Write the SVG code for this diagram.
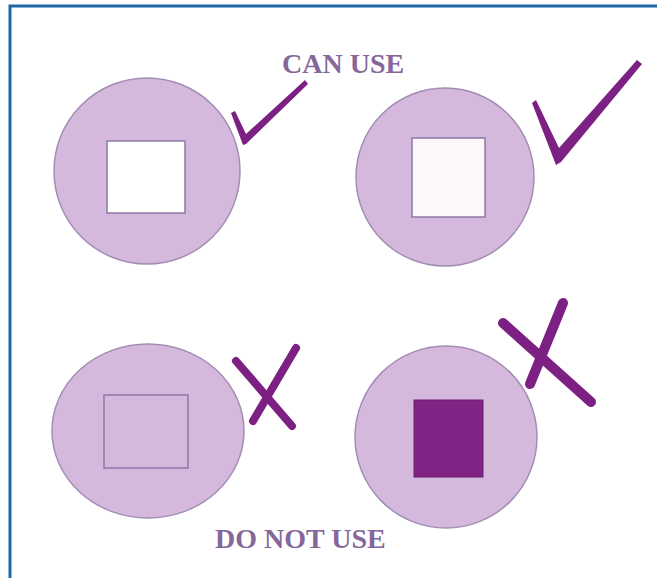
<svg xmlns="http://www.w3.org/2000/svg" width="657" height="578" viewBox="0 0 657 578">
  <style>
    .disc { fill: #d5b9dc; stroke: #a28db4; stroke-width: 1.5; }
    .sq { stroke: #8d78a6; stroke-width: 1.5; }
    .mark { fill: #7c2083; }
    .xline { stroke: #7c2083; stroke-linecap: round; fill: none; }
    .label { font-family: "Liberation Serif", "Times New Roman", serif; font-weight: bold; font-size: 28px; fill: #86679a; }
  </style>
  <rect x="0" y="0" width="657" height="578" fill="#ffffff"/>
  <g id="frame">
    <path d="M10,578 V6 H657" fill="none" stroke="#1f68a8" stroke-width="3"/>
  </g>
  <g id="label-can-use">
    <text class="label" x="282" y="73">CAN USE</text>
  </g>
  <g id="label-do-not-use">
    <text class="label" x="215" y="548">DO NOT USE</text>
  </g>
  <g id="node-top-left">
    <circle class="disc" cx="147" cy="171" r="93"/>
    <rect class="sq" x="107" y="141" width="78" height="72" fill="#ffffff"/>
  </g>
  <g id="node-top-right">
    <circle class="disc" cx="445" cy="177" r="89"/>
    <rect class="sq" x="412" y="138" width="73" height="79" fill="#fdf6fb"/>
  </g>
  <g id="node-bottom-left">
    <ellipse class="disc" cx="148" cy="431" rx="96" ry="87"/>
    <rect class="sq" x="104" y="395" width="84" height="73" fill="none" stroke="#9a7fb2"/>
  </g>
  <g id="node-bottom-right">
    <circle class="disc" cx="446" cy="437" r="91"/>
    <rect x="414" y="400" width="69" height="77" fill="#7f2384" stroke="#6f1d76" stroke-width="1"/>
  </g>
  <g id="marks">
    <polygon class="mark" points="231,113 235,111 246,134 305,80 308,84 246,144 243,145"/>
    <polygon class="mark" points="532,103 536,100 559,148 637,60 642,64 561,162 556,165"/>
    <line class="xline" x1="236" y1="361" x2="292" y2="426" stroke-width="8"/>
    <line class="xline" x1="296" y1="348" x2="253" y2="421" stroke-width="8"/>
    <line class="xline" x1="503" y1="323" x2="591" y2="402" stroke-width="10"/>
    <line class="xline" x1="563" y1="303" x2="530" y2="384" stroke-width="10"/>
  </g>
</svg>
